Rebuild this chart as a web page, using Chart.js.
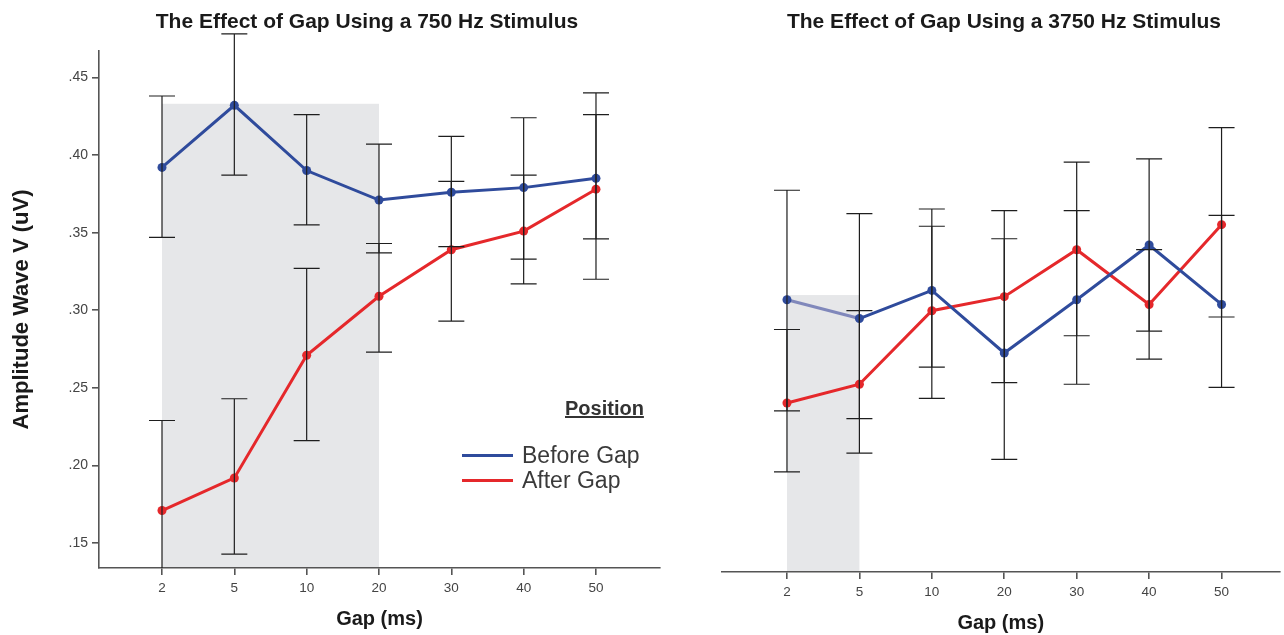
<!DOCTYPE html>
<html>
<head>
<meta charset="utf-8">
<script src="https://cdn.jsdelivr.net/npm/chart.js@4.4.0/dist/chart.umd.min.js"></script>
<style>
  body { margin: 0; background: #fff; width: 1284px; height: 635px; overflow: hidden; position: relative;
         font-family: "Liberation Sans", Arial, sans-serif; }
  .wrap { position: absolute; }
  .title { position: absolute; top: 8px; font-weight: bold; font-size: 21px; line-height: 26px; color: #1a1a1a;
           white-space: nowrap; transform: translateX(-50%); }
  .legend { position: absolute; font-size: 23px; line-height: 26px; color: #3a3a3a; white-space: nowrap; }
  .key { position: absolute; width: 51px; height: 3px; }
</style>
</head>
<body>
<div class="wrap" style="left:0;top:0;width:672px;height:635px"><canvas id="left"></canvas></div>
<div class="wrap" style="left:700px;top:4px;width:584px;height:635px"><canvas id="right"></canvas></div>

<div class="title" style="left:367px">The Effect of Gap Using a 750 Hz Stimulus</div>
<div class="title" style="left:1004px">The Effect of Gap Using a 3750 Hz Stimulus</div>

<div class="legend" style="left:565px;top:395px;font-size:20px;font-weight:bold;text-decoration:underline;color:#333">Position</div>
<div class="key" style="left:462px;top:454px;background:#2f4b9c"></div>
<div class="legend" style="left:522px;top:442px">Before Gap</div>
<div class="key" style="left:462px;top:479px;background:#e5282b"></div>
<div class="legend" style="left:522px;top:467px">After Gap</div>

<script>
// gap conditions (ms)
var gapLabels = ['2', '5', '10', '20', '30', '40', '50'];

// 750 Hz stimulus
var before750   = [.392, .432, .390, .371, .376, .379, .385];
var before750Lo = [.347, .387, .355, .337, .341, .333, .346];
var before750Hi = [.438, .478, .426, .407, .412, .424, .426];
var after750    = [.171, .192, .271, .309, .339, .351, .378];
var after750Lo  = [.114, .143, .216, .273, .293, .317, .320];
var after750Hi  = [.229, .243, .327, .343, .383, .387, .440];

// 3750 Hz stimulus
var before3750   = [.308, .296, .314, .274, .308, .343, .305];
var before3750Lo = [.237, .232, .265, .206, .254, .288, .252];
var before3750Hi = [.378, .363, .366, .347, .365, .398, .362];
var after3750    = [.242, .254, .301, .310, .340, .305, .356];
var after3750Lo  = [.198, .210, .245, .255, .285, .270, .297];
var after3750Hi  = [.289, .301, .355, .365, .396, .340, .418];

// shaded gap span: from/to gap index, top value
var shade750  = [0, 3, .433];
var shade3750 = [0, 1, .311];

var BLUE = '#2f4b9c', RED = '#e5282b';
var FONT = '"Liberation Sans", Arial, sans-serif';

function pts(vals) {
  return vals.map(function (v, i) { return { x: i, y: v }; });
}

var shadePlugin = {
  id: 'shade',
  beforeDraw: function (chart) {
    var s = chart.options.plugins.shade.span;
    var xs = chart.scales.x, ys = chart.scales.y, ctx = chart.ctx;
    var x0 = xs.getPixelForValue(s[0]), x1 = xs.getPixelForValue(s[1]);
    var y0 = ys.getPixelForValue(s[2]);
    ctx.save();
    ctx.fillStyle = '#e6e7e9';
    ctx.fillRect(x0, y0, x1 - x0, chart.chartArea.bottom - y0);
    ctx.restore();
  }
};

var errorBars = {
  id: 'errorBars',
  afterDatasetsDraw: function (chart) {
    var ctx = chart.ctx, ys = chart.scales.y, bottom = chart.chartArea.bottom;
    ctx.save();
    ctx.strokeStyle = '#1e1e1e';
    ctx.lineWidth = 1.2;
    chart.data.datasets.forEach(function (ds, di) {
      var meta = chart.getDatasetMeta(di);
      meta.data.forEach(function (pt, i) {
        var x = pt.x;
        var hi = ys.getPixelForValue(ds.errHi[i]);
        var lo = ys.getPixelForValue(ds.errLo[i]);
        ctx.beginPath();
        ctx.moveTo(x, hi); ctx.lineTo(x, Math.min(lo, bottom));
        ctx.moveTo(x - 13, hi); ctx.lineTo(x + 13, hi);
        if (lo <= bottom) { ctx.moveTo(x - 13, lo); ctx.lineTo(x + 13, lo); }
        ctx.stroke();
      });
    });
    ctx.restore();
  }
};

function makeChart(id, before, bLo, bHi, after, aLo, aHi, span, xmin, xmax, showY, padLeft, padRight, fadeFirst) {
  var ctx = document.getElementById(id);
  return new Chart(ctx, {
    type: 'line',
    data: {
      datasets: [{
        label: 'Before Gap',
        data: pts(before), errLo: bLo, errHi: bHi,
        borderColor: BLUE, backgroundColor: BLUE,
        borderWidth: 3, pointRadius: 4.5, pointBorderWidth: 0,
        segment: fadeFirst ? { borderColor: function (c) { return c.p0DataIndex === 0 ? '#8088bb' : undefined; } } : {}
      }, {
        label: 'After Gap',
        data: pts(after), errLo: aLo, errHi: aHi,
        borderColor: RED, backgroundColor: RED,
        borderWidth: 3, pointRadius: 4.5, pointBorderWidth: 0
      }]
    },
    options: {
      responsive: true,
      maintainAspectRatio: false,
      animation: false,
      layout: { padding: { top: showY ? 51 : 47, right: padRight, bottom: 4, left: padLeft } },
      plugins: {
        legend: { display: false },
        tooltip: { enabled: false },
        shade: { span: span }
      },
      scales: {
        x: {
          type: 'linear', min: xmin, max: xmax,
          afterFit: function (s) { s.height = 63; },
          border: { display: true, color: '#555', width: 1.6 },
          grid: { display: true, drawOnChartArea: false, drawTicks: true, tickLength: 7, color: '#555', lineWidth: 1.6 },
          ticks: {
            stepSize: 1, includeBounds: false, padding: 5, maxRotation: 0,
            color: '#444', font: { family: FONT, size: 13.5 },
            callback: function (v) { return gapLabels[v] || ''; }
          },
          title: { display: true, text: 'Gap (ms)', color: '#1a1a1a', padding: 0,
                   font: { family: FONT, size: 20, weight: 'bold' } }
        },
        y: {
          display: showY,
          min: .134, max: .467,
          afterFit: function (s) { s.width = showY ? 99 : 0; },
          border: { display: true, color: '#555', width: 1.6 },
          grid: { display: true, drawOnChartArea: false, drawTicks: true, tickLength: 7, color: '#555', lineWidth: 1.6 },
          ticks: {
            stepSize: .05, includeBounds: false, padding: 4,
            color: '#444', font: { family: FONT, size: 14 },
            callback: function (v) { return v.toFixed(2).replace(/^0/, ''); }
          },
          title: { display: true, text: 'Amplitude Wave V (uV)', color: '#1a1a1a', padding: { top: 9, bottom: 0 },
                   font: { family: FONT, size: 22, weight: 'bold' } }
        }
      }
    },
    plugins: [shadePlugin, errorBars]
  });
}

makeChart('left', before750, before750Lo, before750Hi, after750, after750Lo, after750Hi,
          shade750, -0.871, 6.885, true, 0, 12, false);
makeChart('right', before3750, before3750Lo, before3750Hi, after3750, after3750Lo, after3750Hi,
          shade3750, -0.897, 6.80, false, 22, 0, true);
</script>
</body>
</html>
